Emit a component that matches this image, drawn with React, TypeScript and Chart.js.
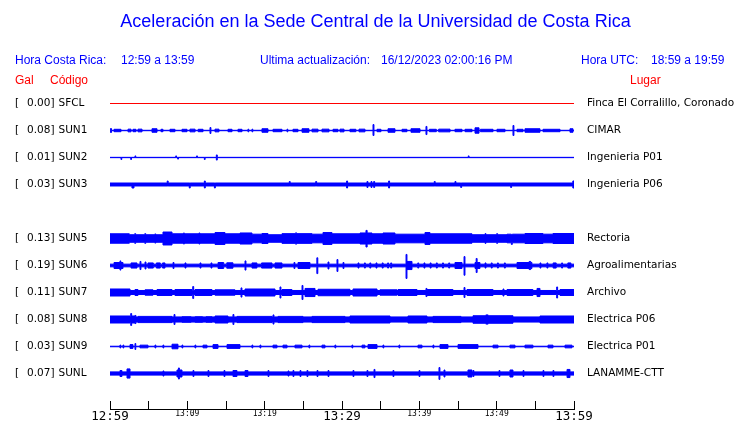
import React, { useEffect, useRef } from 'react';
import { Chart, registerables } from 'chart.js';
Chart.register(...registerables);

const TITLE = 'Aceleración en la Sede Central de la Universidad de Costa Rica';
const HORA_CR = '12:59 a 13:59';
const ACTUALIZACION = '16/12/2023 02:00:16 PM';
const HORA_UTC = '18:59 a 19:59';

const CODES = ['SFCL', 'SUN1', 'SUN2', 'SUN3', 'SUN5', 'SUN6', 'SUN7', 'SUN8', 'SUN9', 'SUNL'];
const GAL = [0.0, 0.08, 0.01, 0.03, 0.13, 0.19, 0.11, 0.08, 0.03, 0.07];
const PLACES = ['Finca El Corralillo, Coronado', 'CIMAR', 'Ingenieria P01', 'Ingenieria P06', 'Rectoria', 'Agroalimentarias', 'Archivo', 'Electrica P06', 'Electrica P01', 'LANAMME-CTT'];
const LANES = [0, 1, 2, 3, 5, 6, 7, 8, 9, 10];
const BASE = [0, 0.08, 0.06, 0.55, 1.4, 0.5, 0.75, 0.95, 0.1, 0.6];

const TICK_MINUTES = [0, 5, 10, 15, 20, 25, 30, 35, 40, 45, 50, 55, 60];
const TICK_LABELS = ['12:59', '', '13:09', '', '13:19', '', '13:29', '', '13:39', '', '13:49', '', '13:59'];
const MAJOR_LABELS = ['12:59', '13:29', '13:59'];

// events: [start minute, end minute, amplitude up, amplitude down?]
const EV_SFCL: number[][] = [];
const EV_SUN1 = [[0.05,0.2,0.7],[0.52,1.42,0.45],[2.33,2.72,0.5],[2.97,3.36,0.45],[3.62,4.14,0.5],[5.43,6.08,0.65],[6.59,6.85,0.45],[7.76,8.4,0.45],[9.31,9.96,0.45],[10.34,11.0,0.5],[11.4,12.03,0.45],[12.93,13.05,1.1],[13.58,14.09,0.5],[15.26,15.78,0.45],[16.55,17.07,0.45],[17.84,17.94,0.5],[18.36,18.46,0.5],[19.65,20.43,0.65],[21.08,22.24,0.45],[22.89,22.99,0.5],[23.66,24.31,0.45],[24.83,25.73,0.65],[26.12,26.9,0.5],[27.41,28.32,0.5],[28.84,29.48,0.45],[29.74,30.26,0.5],[31.03,31.8,0.45],[32.2,32.97,0.5],[34.01,34.13,2.2,1.85],[34.53,35.04,0.45],[35.95,36.85,0.65],[37.76,38.4,0.45],[38.92,40.09,0.65],[40.86,40.98,1.5],[41.3,42.2,0.45],[42.5,43.97,0.5],[44.61,45.52,0.45],[45.91,46.81,0.45],[47.2,47.72,1.0],[47.9,49.53,0.45],[50.04,51.08,0.45],[52.11,52.23,1.85],[52.63,53.41,0.45],[53.66,55.6,0.65],[55.99,58.19,0.45],[59.48,59.87,0.65]];
const EV_SUN2 = [[1.42,1.52,0.06,0.75],[2.68,2.78,0.06,0.75],[3.23,3.33,0.6,0.06],[8.5,8.6,0.6,0.06],[8.75,8.85,0.06,0.6],[11.2,11.3,0.6,0.06],[12.2,12.3,0.06,0.75],[13.75,13.87,0.95],[46.33,46.43,0.6,0.06]];
const EV_SUN3 = [[2.84,3.1,0.55,1.3],[7.4,7.52,1.3,0.55],[10.25,10.37,0.55,1.3],[12.2,12.32,1.3],[13.5,13.62,0.55,1.3],[23.18,23.3,1.1,0.55],[26.6,26.72,1.1,0.55],[30.6,30.72,1.3],[33.23,33.35,1.1],[33.75,33.87,1.1],[34.1,34.22,1.1],[36.03,36.15,1.3],[41.93,42.05,1.1,0.55],[44.61,44.73,1.1,0.55],[45.35,45.47,0.55,1.1],[51.81,51.93,0.55,1.1],[59.85,60,1.3]];
const EV_SUN5 = [[0,2.5,1.75],[3.2,3.32,1.8],[4.5,4.62,1.8],[5.8,5.92,1.7],[6.85,8.02,2.4],[8.02,9.5,1.75],[9.5,9.62,2.05],[9.62,11.5,1.75],[11.5,11.62,2.05],[11.62,13.58,1.75],[13.58,14.87,2.2],[14.87,16.81,1.75],[16.81,18.36,2.05],[18.36,19.65,1.6],[19.65,20.43,1.85],[22.24,24.0,1.8],[24.0,24.12,2.1],[24.12,26.12,1.8],[26.12,27.54,1.6],[27.54,28.71,2.2],[28.71,32.33,1.75],[32.33,33.1,2.05],[33.1,33.25,3.0,3.15],[33.25,33.88,2.05],[33.88,35.3,1.75],[35.3,36.85,2.05],[36.85,40.73,1.6],[40.73,41.38,2.2],[41.38,46.81,1.75],[48.5,48.62,1.8],[50.0,50.12,1.8],[51.34,51.9,1.6],[51.9,52.02,1.4,2.2],[52.02,53.66,1.6],[53.66,55.99,1.85],[55.99,57.28,1.6],[57.28,60,1.85]];
const EV_SUN6 = [[0.52,1.29,1.1],[1.29,1.4,1.7],[1.4,1.68,1.1],[2.72,3.49,0.95],[3.88,4.0,1.5],[4.53,4.65,1.3],[4.91,5.6,0.95],[6.0,6.5,0.95],[6.8,7.11,0.95],[8.15,8.27,1.1],[9.7,9.82,0.95],[11.64,11.76,0.95],[13.06,13.18,0.95],[13.97,14.7,1.1],[15.1,15.9,1.0],[17.46,17.58,1.7],[18.36,19.0,0.95],[19.6,20.95,0.95],[21.34,22.24,0.95],[23.79,23.91,1.1],[24.31,25.86,1.1],[26.75,26.87,2.85,3.0],[28.19,28.31,1.3],[29.35,29.47,2.2],[30.13,30.25,1.1],[32.07,32.19,0.95],[32.9,33.02,0.95],[33.6,33.72,0.95],[34.4,34.52,0.95],[35.2,35.32,0.95],[35.9,36.02,0.95],[36.3,36.42,0.95],[38.28,38.4,4.1,4.8],[38.4,39.05,1.5],[39.8,39.92,0.95],[40.6,40.72,0.95],[41.4,41.52,0.95],[42.2,42.32,0.95],[43.0,43.12,0.95],[43.8,43.92,0.95],[44.61,45.52,1.1],[45.78,45.9,3.3,3.6],[47.2,47.35,1.1],[47.35,47.47,2.6],[47.47,47.84,1.1],[48.5,48.62,0.95],[49.3,49.42,0.95],[50.1,50.22,0.95],[51.0,51.12,0.95],[52.63,54.2,1.1],[54.2,54.4,1.5],[54.4,54.56,1.1],[55.6,55.72,0.95],[56.5,56.62,0.95],[57.3,57.7,0.95],[58.4,58.52,0.95],[59.2,59.6,0.95]];
const EV_SUN7 = [[0,2.59,1.3],[3.23,3.62,1.1],[4.53,5.56,1.0],[6.08,8.02,1.1],[8.4,10.6,1.1],[10.7,10.82,2.2],[10.99,13.19,1.1],[13.58,16.16,1.0],[16.94,17.06,1.7],[17.46,21.34,1.3],[21.98,22.1,2.05],[22.24,23.53,1.1],[24.83,24.95,2.6],[25.22,26.51,1.5],[26.9,31.03,1.2],[31.42,34.53,1.3],[34.91,37.11,1.0],[37.24,39.7,1.1],[40.86,40.98,1.5],[41.0,44.35,1.1],[45.78,45.9,1.85],[46.16,49.53,1.1],[50.82,50.94,1.3],[51.34,54.69,1.1],[55.22,55.6,1.5],[57.76,57.88,2.05],[58.19,60,1.1]];
const EV_SUN8 = [[0,2.59,1.3],[2.68,2.8,2.2],[2.8,3.23,1.3],[3.23,3.35,1.5],[3.62,8.02,1.15],[8.28,8.4,1.85],[9.31,10.5,1.05],[11.0,12.0,1.05],[12.4,13.19,1.05],[13.58,15.26,1.3],[15.9,16.02,1.85],[16.42,20.95,1.15],[21.08,21.2,1.7],[21.72,24.96,1.15],[26.12,30.39,1.15],[31.03,36.21,1.3],[38.53,40.99,1.3],[41.77,45.39,1.15],[46.94,48.6,1.4],[48.6,48.9,1.7],[48.9,52.11,1.4],[55.6,60,1.3]];
const EV_SUN9 = [[1.29,1.39,0.55],[1.68,1.78,0.55],[2.59,2.97,0.7],[3.23,3.33,1.1],[3.88,4.91,0.5],[5.82,5.92,0.55],[6.85,6.95,0.55],[8.02,8.79,0.85],[9.31,9.41,0.55],[10.99,11.09,0.55],[12.03,12.54,0.5],[13.32,13.97,0.7],[15.13,16.81,0.7],[18.36,18.46,0.55],[19.4,19.5,0.55],[21.08,21.59,0.5],[22.37,22.89,0.5],[23.92,24.83,0.5],[25.73,25.83,0.55],[27.41,27.8,0.5],[29.09,29.19,0.55],[31.29,31.39,0.55],[32.59,32.97,0.5],[33.36,34.53,0.7],[35.3,35.4,0.55],[37.37,37.47,0.55],[39.83,40.34,0.5],[41.77,41.87,0.55],[42.67,43.71,0.7],[45.0,47.59,0.7],[49.53,50.17,0.5],[51.72,52.37,0.5],[53.66,54.69,0.5],[56.64,57.28,0.5],[58.84,59.74,0.5]];
const EV_SUNL = [[1.29,1.55,1.1],[2.2,2.59,1.7],[6.85,6.97,0.95],[8.66,8.85,1.3],[8.85,8.97,2.05],[8.97,9.31,1.3],[10.73,10.85,1.1],[12.67,12.79,1.1],[14.74,14.86,1.1],[15.9,16.42,1.1],[17.46,17.84,1.1],[20.43,20.55,1.1],[23.02,23.14,0.95],[23.66,23.78,1.1],[24.57,24.69,1.1],[25.47,25.59,1.1],[26.77,26.89,1.1],[28.19,28.31,1.1],[31.42,31.54,1.1],[33.23,33.35,1.1],[34.14,34.26,1.5],[36.59,36.71,1.1],[39.96,40.08,1.1],[42.54,42.66,2.2],[43.19,43.31,1.3],[46.29,46.81,1.3],[46.94,47.06,1.1],[50.3,50.42,1.1],[51.72,52.11,1.3],[53.41,53.53,1.1],[55.99,56.11,1.1],[57.28,57.4,1.1],[59.1,59.48,1.5]];

const EVENTS = [EV_SFCL, EV_SUN1, EV_SUN2, EV_SUN3, EV_SUN5, EV_SUN6, EV_SUN7, EV_SUN8, EV_SUN9, EV_SUNL];

const BLUE = '#0000ff';
const RED = '#ff0000';
const LANE_STEP = 10;

function envelope(center: number, base: number, events: number[][], sign: number) {
  const sorted = [...events].sort((a, b) => a[0] - b[0]);
  const pts: { x: number; y: number }[] = [{ x: 0, y: center + sign * base }];
  sorted.forEach((e, i) => {
    const [t0, t1, up, down] = e;
    const a = sign < 0 ? up : (down ?? up);
    pts.push({ x: t0, y: center + sign * a });
    const next = sorted[i + 1];
    if (!next || next[0] > t1) pts.push({ x: t1, y: center + sign * base });
  });
  pts.push({ x: 60, y: center + sign * base });
  return pts;
}

const textPlugin = {
  id: 'seismoText',
  afterDraw(chart: any) {
    const ctx = chart.ctx;
    const y = chart.scales.y;
    ctx.save();
    ctx.textBaseline = 'middle';
    ctx.fillStyle = BLUE;
    ctx.textAlign = 'center';
    ctx.font = '18px "Liberation Sans"';
    ctx.fillText(TITLE, 375.5, 22);
    ctx.textAlign = 'left';
    ctx.font = '12px "Liberation Sans"';
    ctx.fillText('Hora Costa Rica:', 15, 60.5);
    ctx.fillText(HORA_CR, 121, 60.5);
    ctx.fillText('Ultima actualización:', 260, 60.5);
    ctx.fillText(ACTUALIZACION, 381, 60.5);
    ctx.fillText('Hora UTC:', 581, 60.5);
    ctx.fillText(HORA_UTC, 651, 60.5);
    ctx.fillStyle = RED;
    ctx.fillText('Gal', 15, 80.5);
    ctx.fillText('Código', 50, 80.5);
    ctx.fillText('Lugar', 630, 80.5);
    ctx.fillStyle = '#000';
    ctx.font = '10.5px "DejaVu Sans"';
    CODES.forEach((code, i) => {
      const py = y.getPixelForValue(LANES[i] * LANE_STEP);
      ctx.fillText('[', 15, py);
      ctx.fillText(GAL[i].toFixed(2) + ']', 27, py);
      ctx.fillText(code, 58.5, py);
      ctx.fillText(PLACES[i], 587, py);
    });
    ctx.restore();
  },
};

export default function App() {
  const ref = useRef<HTMLCanvasElement>(null);
  useEffect(() => {
    if (!ref.current) return;
    const datasets: any[] = [];
    CODES.forEach((code, i) => {
      const c = LANES[i] * LANE_STEP;
      if (EVENTS[i].length === 0 && BASE[i] === 0) {
        datasets.push({
          label: code,
          data: [{ x: 0, y: c }, { x: 60, y: c }],
          borderColor: RED,
          borderWidth: 1,
          pointRadius: 0,
          fill: false,
        });
        return;
      }
      datasets.push({
        label: code + ' +',
        data: envelope(c, BASE[i], EVENTS[i], -1),
        borderColor: BLUE,
        backgroundColor: BLUE,
        borderWidth: 1,
        pointRadius: 0,
        stepped: true,
        fill: '+1',
      });
      datasets.push({
        label: code + ' -',
        data: envelope(c, BASE[i], EVENTS[i], 1),
        borderColor: BLUE,
        backgroundColor: BLUE,
        borderWidth: 1,
        pointRadius: 0,
        stepped: true,
        fill: false,
      });
    });
    const chart = new Chart(ref.current, {
      type: 'line',
      data: { datasets },
      options: {
        responsive: false,
        animation: false,
        layout: { padding: { left: 110, right: 166, top: 90, bottom: 0 } },
        plugins: { legend: { display: false }, tooltip: { enabled: false }, title: { display: false } },
        elements: { point: { radius: 0 }, line: { tension: 0 } },
        scales: {
          x: {
            type: 'linear',
            min: 0,
            max: 60,
            afterBuildTicks: (s: any) => {
              s.ticks = TICK_MINUTES.map((v) => ({ value: v }));
            },
            afterFit: (s: any) => {
              s.height = 14;
            },
            ticks: {
              autoSkip: false,
              maxRotation: 0,
              padding: 8,
              color: '#000',
              callback: (_v: any, i: number) => TICK_LABELS[i],
              font: (ctx: any) =>
                MAJOR_LABELS.includes(TICK_LABELS[ctx.index])
                  ? { family: 'DejaVu Sans Mono', size: 12.5 }
                  : { family: 'DejaVu Sans Mono', size: 8 },
            },
            grid: { drawOnChartArea: false, drawTicks: true, tickLength: -8, color: '#000', lineWidth: 1 },
            border: { display: true, color: '#000', width: 1 },
          },
          y: { type: 'linear', reverse: true, min: -5, max: 113.148, display: false },
        },
      },
      plugins: [textPlugin],
    } as any);
    return () => chart.destroy();
  }, []);
  return (
    <div style={{ position: 'fixed', left: 0, top: 0, width: 740, height: 423, background: '#fff' }}>
      <canvas ref={ref} width={740} height={423} />
    </div>
  );
}
